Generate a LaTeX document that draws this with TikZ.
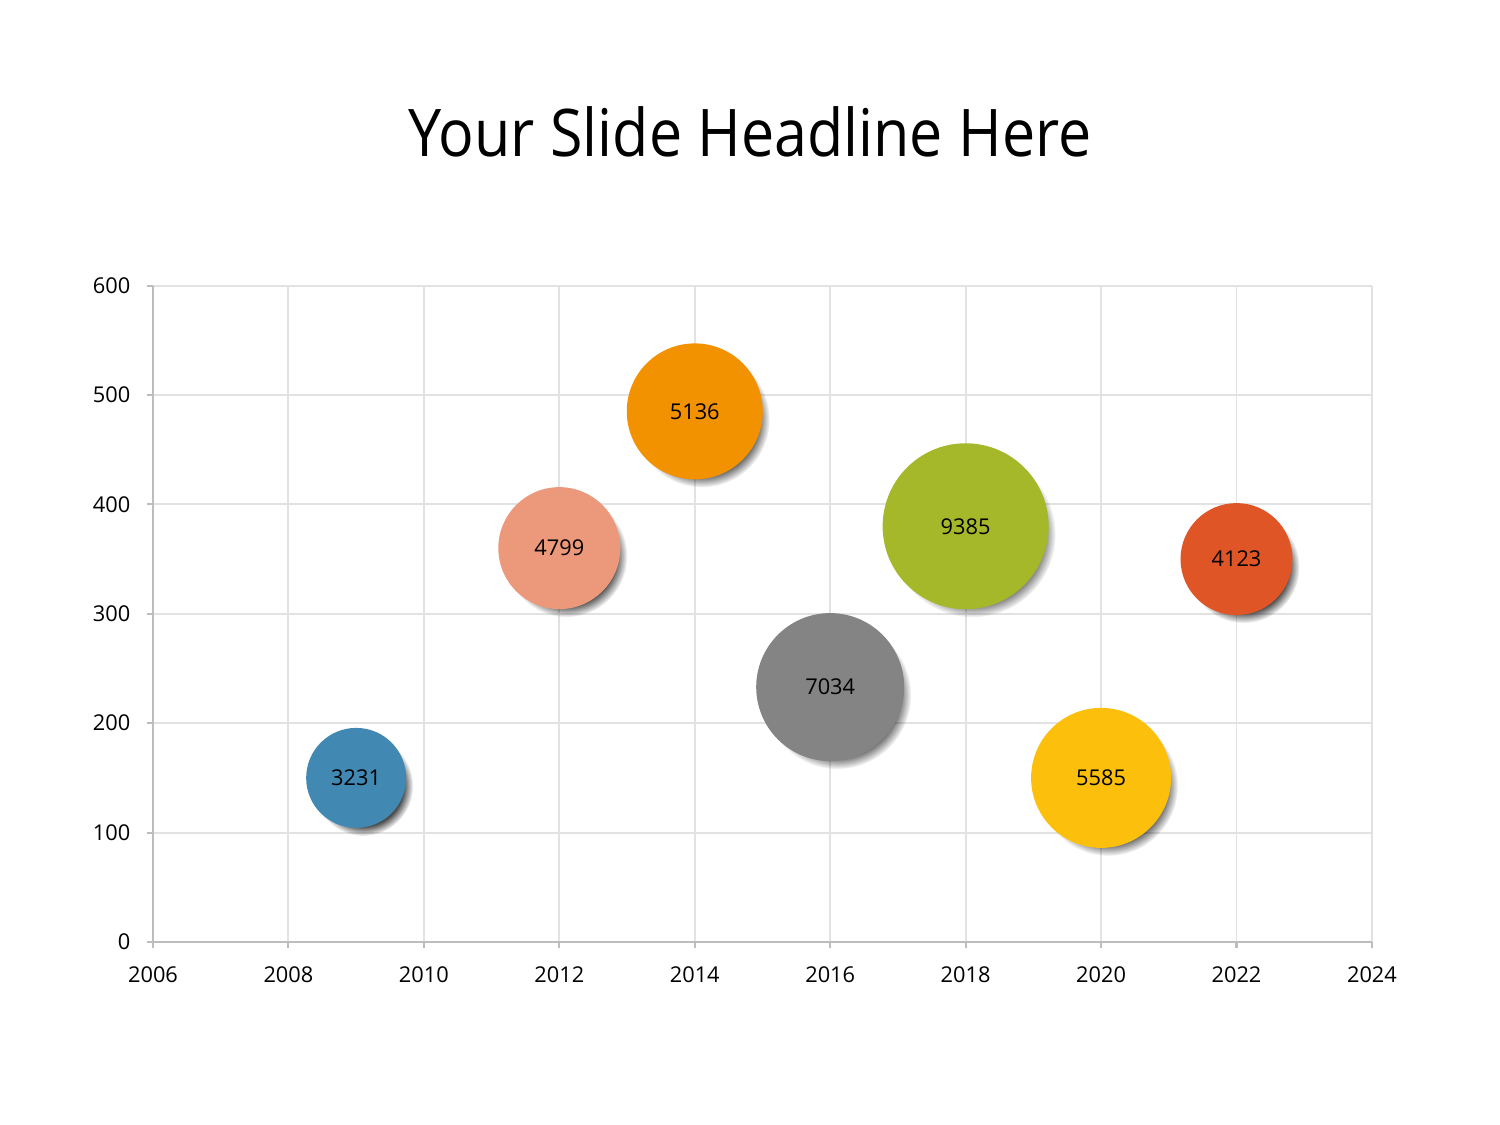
\documentclass[tikz,border=0pt]{standalone}
\usepackage{fontspec}
\setmainfont{Open Sans}
\newfontfamily\titlefont[FakeStretch=0.9]{Open Sans}
\usetikzlibrary{shadows,fadings}
\definecolor{gridgray}{HTML}{E2E2E2}
\definecolor{axisgray}{HTML}{BDBDBD}
\definecolor{bblue}{HTML}{4189B3}
\definecolor{bsalmon}{HTML}{EB987B}
\definecolor{borange}{HTML}{F39200}
\definecolor{bgray}{HTML}{848484}
\definecolor{bgreen}{HTML}{A5B82A}
\definecolor{byellow}{HTML}{FCC00C}
\definecolor{bred}{HTML}{E05526}

\begin{document}
\begin{tikzpicture}[
        gridline/.style={draw=gridgray, line width=0.55pt},
        axisline/.style={draw=axisgray, line width=0.6pt},
        ticklabel/.style={font=\fontsize{6.2}{7}\selectfont, inner sep=0pt},
        bubble/.style={circle, inner sep=0pt, font=\fontsize{6.2}{7}\selectfont,
            drop shadow={shadow xshift=0.07cm, shadow yshift=-0.08cm, fill=black, opacity=0.7,
                path fading=circle with fuzzy edge 20 percent}}
    ]
    \useasboundingbox (0,0) rectangle (15,11.25);

    % Titel
    \node[font=\titlefont\fontsize{18.7}{22}\selectfont] (title) at (7.5,9.93) {Your Slide Headline Here};

    % Diagramm: x = Jahr - 2006, y = Wert
    \begin{scope}[shift={(1.53,1.83)}, x=0.6772cm, y=0.010933cm]
    \foreach \yr in {2,4,...,18} \draw[gridline] (\yr,0) -- (\yr,600);
    \foreach \v in {100,200,...,600} \draw[gridline] (0,\v) -- (18,\v);

    \coordinate (origin) at (0,0);
    \coordinate (xend) at (18,0);
    \coordinate (yend) at (0,600);
    \draw[axisline] (yend) -- (origin) -- (xend);
    \foreach \yr in {0,2,...,18} {
        \pgfmathtruncatemacro\year{2006+\yr}
        \draw[axisline] (\yr,0) -- ++(0,-0.06cm);
        \node[ticklabel, yshift=-0.33cm] (xlab\year) at (\yr,0) {\year};
    }
    \foreach \v in {0,100,...,600} {
        \draw[axisline] (0,\v) -- ++(-0.06cm,0);
        \node[ticklabel, anchor=east, xshift=-0.22cm] (ylab\v) at (0,\v) {\v};
    }

    % Blasen
    \node[bubble, fill=bblue, minimum size=1.00cm] (b2009) at (3,150) {3231};
    \node[bubble, fill=bsalmon, minimum size=1.22cm] (b2012) at (6,360) {4799};
    \node[bubble, fill=borange, minimum size=1.36cm] (b2014) at (8,485) {5136};
    \node[bubble, fill=bgray, minimum size=1.48cm] (b2016) at (10,233) {7034};
    \node[bubble, fill=bgreen, minimum size=1.66cm] (b2018) at (12,380) {9385};
    \node[bubble, fill=byellow, minimum size=1.40cm] (b2020) at (14,150) {5585};
    \node[bubble, fill=bred, minimum size=1.12cm] (b2022) at (16,350) {4123};
    \end{scope}
\end{tikzpicture}
\end{document}
